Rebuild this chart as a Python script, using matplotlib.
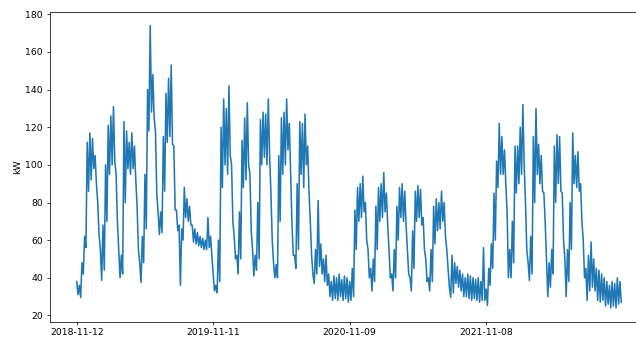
import matplotlib
matplotlib.use("Agg")
import matplotlib.pyplot as plt
import matplotlib.dates as mdates
import numpy as np

# weekly high / low readings (kW), first week starting 2018-11-12
start = np.datetime64("2018-11-12T00")
week_high = [38, 36, 48, 62, 112, 117, 114, 105, 80, 55, 68, 100, 121, 126, 131, 95, 55, 52,
             123, 118, 112, 117, 110, 78, 48, 62, 95, 140, 174, 148, 118, 75, 75, 115, 138, 146,
             153, 110, 76, 68, 66, 88, 82, 78, 68, 66, 64, 62, 61, 60, 72, 62, 42, 36, 60, 120,
             135, 130, 142, 100, 62, 52, 75, 113, 125, 133, 95, 55, 52, 80, 124, 128, 127, 135,
             85, 48, 47, 105, 125, 128, 135, 122, 70, 52, 90, 123, 122, 127, 110, 70, 42, 55,
             81, 58, 50, 52, 42, 38, 41, 40, 42, 39, 41, 40, 38, 45, 76, 88, 90, 94, 80, 55,
             45, 50, 78, 88, 90, 96, 85, 55, 42, 55, 78, 88, 90, 86, 55, 40, 65, 86, 89, 87,
             72, 50, 40, 55, 78, 82, 80, 86, 80, 55, 35, 52, 48, 46, 44, 42, 40, 42, 41, 40,
             39, 40, 38, 56, 34, 45, 58, 85, 102, 122, 115, 108, 75, 55, 70, 110, 110, 120, 132,
             80, 48, 62, 115, 130, 111, 105, 85, 50, 48, 55, 110, 116, 115, 85, 50, 55, 80, 117,
             105, 107, 90, 60, 45, 52, 59, 50, 45, 44, 42, 40, 38, 36, 38, 37, 40, 38]
week_low = [31, 29.5, 42, 56, 86, 92, 98, 90, 63, 38.6, 44, 70, 95, 100, 102, 70, 40, 42,
            80, 98, 95, 98, 92, 55, 37.5, 48, 66, 118, 128, 125, 85, 63, 64, 86, 112, 115,
            111, 76, 65, 36, 60, 72, 70, 68, 59, 58, 57, 56, 55, 55, 56, 52, 33, 32, 38, 88,
            100, 95, 105, 70, 50, 42, 50, 88, 92, 100, 65, 41, 44, 50, 100, 104, 100, 105,
            60, 40, 40, 70, 95, 100, 108, 95, 52, 45, 55, 95, 88, 100, 86, 52, 37, 42,
            46, 42, 38, 36, 30, 28, 29, 28, 30, 28, 29, 27, 28, 30, 55, 70, 72, 75, 60, 40,
            33, 38, 55, 70, 72, 75, 68, 40, 33, 40, 60, 72, 70, 68, 42, 33, 45, 70, 72, 68,
            55, 38, 33, 38, 58, 65, 66, 70, 62, 45, 29.6, 32, 37, 35, 33, 30, 30, 29, 28, 29,
            28, 27, 28, 28, 25.3, 36, 45, 60, 88, 95, 95, 90, 40, 40, 48, 85, 90, 95, 100,
            55, 38.6, 42, 80, 95, 90, 86, 70, 30, 35, 42, 80, 90, 86, 60, 30, 38, 55, 90,
            88, 86, 70, 40, 28, 33, 35, 33, 28, 27, 28, 25, 26, 24, 25, 24, 26, 27]

# interleave high and low, half a week apart
values = np.ravel(np.column_stack([week_high, week_low]))
times = start + np.arange(len(values)) * np.timedelta64(84, "h")

dpi = 66.25
fig = plt.figure(figsize=(636 / dpi, 338 / dpi), dpi=dpi)
ax = fig.add_axes([49.5 / 636, 16 / 338, 599 / 636, 310.5 / 338])
ax.plot(times.astype("datetime64[s]").astype(object), values, color="#1f77b4", lw=1.7)

ax.set_ylabel("kW")
ax.set_yticks(range(20, 181, 20))
ax.set_xticks([np.datetime64("2018-11-12").astype(object), np.datetime64("2019-11-11").astype(object),
               np.datetime64("2020-11-09").astype(object), np.datetime64("2021-11-08").astype(object)])
ax.xaxis.set_major_formatter(mdates.DateFormatter("%Y-%m-%d"))

fig.savefig("out.png", dpi=dpi)
